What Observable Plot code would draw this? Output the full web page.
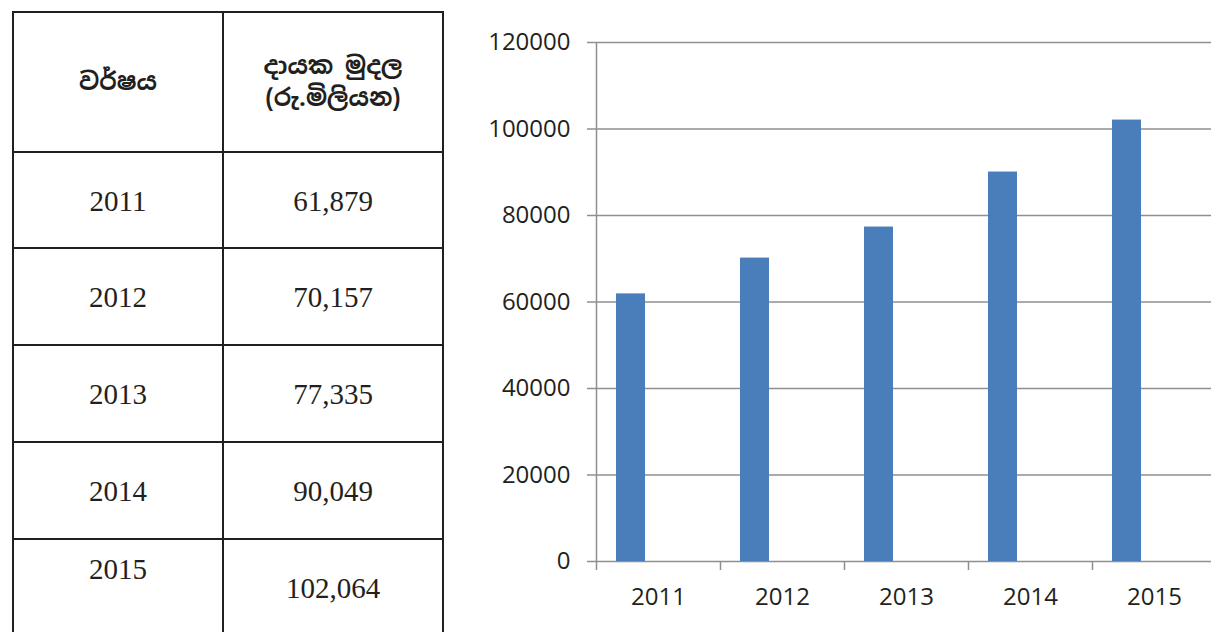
<!DOCTYPE html>
<html>
<head>
<meta charset="utf-8">
<script src="https://cdn.jsdelivr.net/npm/d3@7"></script>
<script src="https://cdn.jsdelivr.net/npm/@observablehq/plot@0.6"></script>
<style>
  html, body { margin: 0; padding: 0; background: #fff; width: 1211px; height: 632px; overflow: hidden; position: relative; }
  .cell { position: absolute; box-sizing: border-box; border: 2px solid #231f20; display: flex; align-items: center; justify-content: center; text-align: center; color: #231f20; }
  .num { font-family: "Liberation Serif", "DejaVu Serif", serif; font-size: 29px; }
  .head { font-family: "Noto Sans Sinhala", "Iskoola Pota", "Noto Sans", sans-serif; font-weight: bold; font-size: 24px; line-height: 32px; }
  #chart { position: absolute; left: 440px; top: 0; width: 776px; height: 632px; }
  #chart svg { max-width: none !important; display: block; }
</style>
</head>
<body>
<div id="table"></div>
<div id="chart"></div>
<script>
// ---- data ----
const years = ["2011", "2012", "2013", "2014", "2015"];
const contributions = [61879, 70157, 77335, 90049, 102064];
const yTicks = [0, 20000, 40000, 60000, 80000, 100000, 120000];
const headerYear = "වර්ෂය";
const headerValue = ["දායක මුදල", "(රු.මිලියන)"];

// ---- table ----
const colX = [13, 223, 443];
const rowY = [12, 152, 248, 345, 442, 539, 636];
const tableEl = document.getElementById("table");
function cell(col, row, html, cls, extraStyle) {
  const d = document.createElement("div");
  d.className = "cell " + cls;
  d.style.left = (colX[col] - 1) + "px";
  d.style.top = (rowY[row] - 1) + "px";
  d.style.width = (colX[col + 1] - colX[col] + 2) + "px";
  d.style.height = (rowY[row + 1] - rowY[row] + 2) + "px";
  const s = document.createElement("span");
  s.innerHTML = html;
  if (extraStyle) s.style.cssText = extraStyle;
  d.appendChild(s);
  tableEl.appendChild(d);
}
cell(0, 0, headerYear, "head", "position:relative; top:0px;");
cell(1, 0, headerValue.join("<br>"), "head", "position:relative; top:0px;");
const fmt = d3.format(",");
years.forEach((y, i) => {
  const last = i === years.length - 1;
  cell(0, i + 1, y, "num", last ? "position:relative; top:-18px;" : "position:relative; top:1px;");
  cell(1, i + 1, fmt(contributions[i]), "num", "position:relative; top:1px;");
});

// ---- chart ----
const data = years.map((y, i) => ({year: y, value: contributions[i]}));
const W = 776, H = 632;
const mL = 156, mR = 0, mT = 42, mB = 71;
const half = (W - mL - mR) / years.length / 2;
const gridColor = "#8f8f8f";

const chart = Plot.plot({
  width: W,
  height: H,
  marginLeft: mL,
  marginRight: mR,
  marginTop: mT,
  marginBottom: mB,
  style: { fontFamily: "'Open Sans', sans-serif", color: "#231f20", background: "transparent", maxWidth: "none" },
  x: { type: "band", domain: years, padding: 0, label: null },
  y: { domain: [0, 120000], label: null },
  marks: [
    Plot.gridY(yTicks, { stroke: gridColor, strokeOpacity: 1, strokeWidth: 1.5 }),
    Plot.axisY(yTicks, { tickSize: 9, tickPadding: 17, stroke: gridColor, strokeWidth: 1.5, fontSize: 24, tickFormat: d3.format("d"), fill: "#231f20", label: null }),
    Plot.ruleX(years.slice(0, 1), { x: d => d, dx: -half, stroke: gridColor, strokeWidth: 1.5 }),
    Plot.ruleX(years, { x: d => d, dx: -half, y1: 0, y2: 0, insetBottom: -9, stroke: gridColor, strokeWidth: 1.5 }),
    Plot.barY(data, { x: "year", y: "value", fill: "#4a7ebb", insetLeft: 20, insetRight: 75 }),
    Plot.axisX({ tickSize: 0, tickPadding: 26, fontSize: 24, fill: "#231f20", label: null })
  ]
});
document.getElementById("chart").appendChild(chart);
</script>
</body>
</html>
